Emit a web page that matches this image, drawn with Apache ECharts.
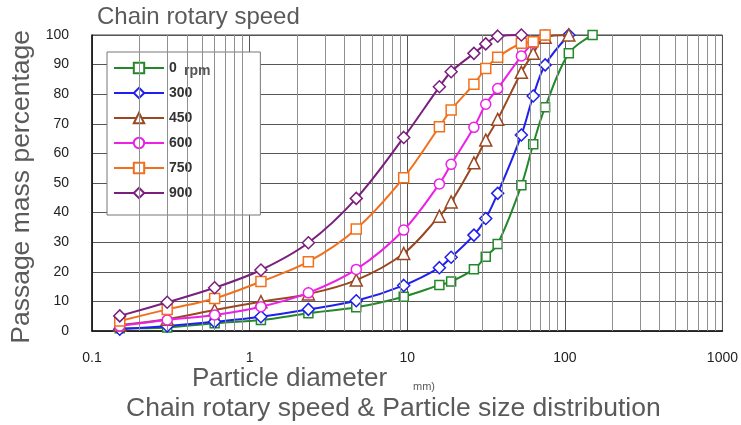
<!DOCTYPE html>
<html>
<head>
<meta charset="utf-8">
<script src="https://cdn.jsdelivr.net/npm/echarts@6/dist/echarts.min.js"></script>
<style>html,body{margin:0;padding:0;background:#fff;}#c{width:741px;height:425px;}</style>
</head>
<body>
<div id="c"></div>
<script>
// Sieve sizes (mm)
const sizes = [0.15, 0.3, 0.6, 1.18, 2.36, 4.75, 9.5, 16, 19, 26.5, 31.5, 37.5, 53, 63, 75, 106, 150];
// Passage mass percentage per chain rotary speed
const rpm0   = [0.9, 1.2, 2.6, 3.7, 6.0, 8.0, 11.6, 15.5, 16.7, 20.9, 25.1, 29.4, 49.2, 63.1, 75.6, 93.8, 100];
const rpm300 = [0.6, 1.7, 3.1, 4.8, 7.3, 10.2, 15.4, 21.4, 24.9, 32.4, 38.0, 46.5, 66.2, 79.4, 89.9, 100];
const rpm450 = [2.0, 4.0, 7.1, 9.9, 12.5, 17.2, 26.2, 38.8, 43.6, 56.8, 64.5, 71.5, 87.4, 93.8, 99.2, 100];
const rpm600 = [1.7, 3.7, 5.4, 8.2, 12.9, 20.8, 34.1, 49.7, 56.3, 68.8, 76.6, 81.9, 92.9, 97.3, 100];
const rpm750 = [3.4, 7.3, 11.0, 16.7, 23.4, 34.5, 51.8, 69.0, 74.7, 83.4, 88.7, 92.5, 97.2, 97.7, 100];
const rpm900 = [5.1, 9.7, 14.6, 20.6, 29.8, 44.8, 65.4, 82.5, 87.6, 93.8, 97.0, 99.6, 100];
const seriesNames = ['0', '300', '450', '600', '750', '900'];
const seriesValues = [rpm0, rpm300, rpm450, rpm600, rpm750, rpm900];
// Axis ticks
const xTickLabels = [0.1, 1, 10, 100, 1000];
const xMinorLines = [0.2, 0.3, 0.4, 0.5, 0.6, 0.7, 0.8, 0.9,
                     2, 3, 4, 5, 6, 7, 8, 9,
                     20, 30, 40, 50, 60, 70, 80, 90,
                     200, 300, 400, 500, 600, 700, 800, 900];

const colors = ['#23882a', '#1f1fef', '#9a4722', '#ee1fe6', '#f2701c', '#7a1f7e'];
const symbols = ['rect', 'diamond', 'triangle', 'circle', 'rect', 'diamond'];
const symSizes = [9, 12, 12, 10, 10, 12];

const chart = echarts.init(document.getElementById('c'), null, {renderer: 'canvas'});
const textGray = '#5a5a5a';
const series = seriesNames.map((n, i) => ({
  name: n,
  type: 'line',
  smooth: 0.35,
  data: seriesValues[i].map((v, k) => [sizes[k], v]),
  symbol: symbols[i],
  symbolSize: symSizes[i],
  showAllSymbol: true,
  lineStyle: {color: colors[i], width: 2},
  itemStyle: {color: '#ffffff', borderColor: colors[i], borderWidth: 1.5},
  z: 3 + i
}));
series.unshift({
  name: 'minor',
  type: 'line',
  data: [],
  silent: true,
  z: 1,
  markLine: {
    silent: true,
    symbol: ['none', 'none'],
    label: {show: false},
    animation: false,
    lineStyle: {type: 'solid', color: '#8f8f8f', width: 1},
    emphasis: {disabled: true},
    data: xMinorLines.map(v => ({xAxis: v}))
  }
});

chart.setOption({
  animation: false,
  backgroundColor: '#ffffff',
  grid: {left: 92, right: 18, top: 35, bottom: 94, show: true, borderColor: '#444', borderWidth: 1},
  xAxis: {
    type: 'log', logBase: 10, min: 0.1, max: 1000,
    axisLine: {show: true, lineStyle: {color: '#111', width: 1.5}},
    axisTick: {show: false},
    axisLabel: {color: '#222', fontSize: 14, margin: 20, fontFamily: 'Liberation Sans',
      formatter: v => { const t = xTickLabels.find(x => Math.abs(Math.log10(x) - Math.log10(v)) < 1e-6); return t === undefined ? '' : String(t); }},
    splitLine: {show: true, lineStyle: {color: '#555', width: 1}}
  },
  yAxis: {
    type: 'value', min: 0, max: 100, interval: 10,
    axisLine: {show: true, lineStyle: {color: '#111', width: 1.5}},
    axisTick: {show: false},
    axisLabel: {color: '#222', fontSize: 14, margin: 23, fontFamily: 'Liberation Sans'},
    splitLine: {show: true, lineStyle: {color: '#555', width: 1}}
  },
  legend: {
    data: seriesNames,
    orient: 'vertical',
    left: 107, top: 52,
    itemWidth: 50, itemHeight: 13, itemGap: 11,
    padding: [9, 68, 15, 6],
    backgroundColor: '#ffffff',
    borderColor: '#777', borderWidth: 1,
    textStyle: {color: '#333', fontSize: 14, fontWeight: 'bold', fontFamily: 'Liberation Sans'}
  },
  graphic: [
    {type: 'text', left: 97, top: 5, z: 10, style: {text: 'Chain rotary speed', fill: textGray, font: '24px "Liberation Sans"'}},
    {type: 'text', left: 184, top: 64, z: 100, style: {text: 'rpm', fill: '#555', font: 'bold 14px "Liberation Sans"'}},
    {type: 'text', left: 8, top: 30, rotation: Math.PI / 2, z: 10,
      style: {text: 'Passage mass percentage', fill: textGray, font: '26.5px "Liberation Sans"'}},
    {type: 'text', left: 192, top: 366, z: 10, style: {text: 'Particle diameter', fill: textGray, font: '26px "Liberation Sans"'}},
    {type: 'text', left: 413, top: 381, z: 10, style: {text: 'mm)', fill: textGray, font: '11px "Liberation Sans"'}},
    {type: 'text', left: 126, top: 395, z: 10, style: {text: 'Chain rotary speed & Particle size distribution', fill: textGray, font: '26.5px "Liberation Sans"'}}
  ],
  series: series
});
</script>
</body>
</html>
